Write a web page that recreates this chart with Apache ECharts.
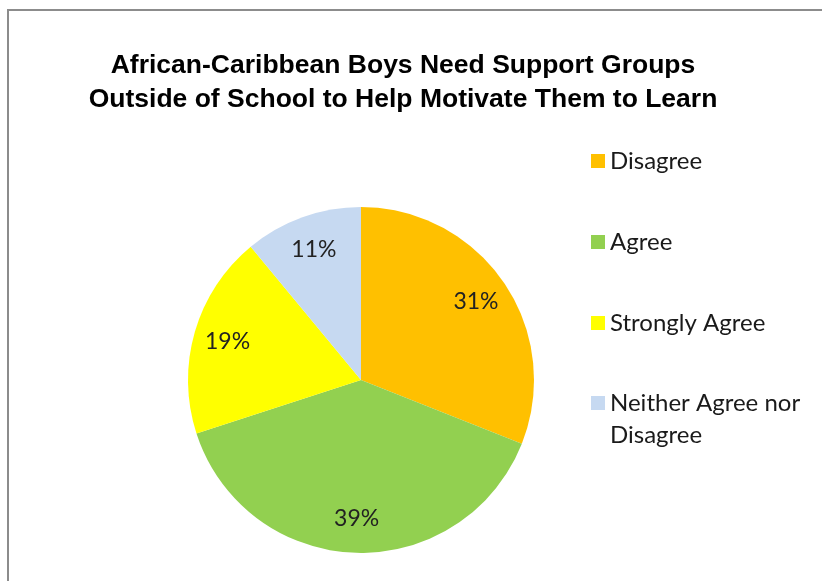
<!DOCTYPE html>
<html><head><meta charset="utf-8">
<script src="https://cdn.jsdelivr.net/npm/echarts@6/dist/echarts.min.js"></script>
<style>html,body{margin:0;padding:0;background:#fff}#c{width:822px;height:581px}</style>
</head><body><div id="c"></div>
<script>
const categories = ['Disagree', 'Agree', 'Strongly Agree', 'Neither Agree nor\nDisagree'];
const values = [31, 39, 19, 11];
const colors = ['#FFC000', '#92D050', '#FFFF00', '#C6D9F1'];
const titleLines = ['African-Caribbean Boys Need Support Groups', 'Outside of School to Help Motivate Them to Learn'];

const data = categories.map((n, i) => ({ name: n, value: values[i], itemStyle: { color: colors[i] } }));
const LH = 32;
const legendText = { fontFamily: 'Lato', fontSize: 24, color: '#1a1a1a', lineHeight: LH };
const chart = echarts.init(document.getElementById('c'), null, { renderer: 'canvas' });
chart.setOption({
  animation: false,
  backgroundColor: '#fff',
  graphic: [{
    type: 'rect', shape: { x: 8, y: 10, width: 1000, height: 1000 },
    style: { fill: 'none', stroke: '#8c8c8c', lineWidth: 2 }, silent: true, z: 0
  }],
  title: {
    text: titleLines.join('\n'), left: 398, top: 44, textAlign: 'center',
    textStyle: { fontFamily: 'Liberation Sans', fontWeight: 'bold', fontSize: 26.5, lineHeight: 34, color: '#000' }
  },
  legend: [{
    orient: 'vertical', left: 591, top: 145, itemWidth: 14, itemHeight: 14, itemGap: 49,
    icon: 'rect', padding: 0, selectedMode: false,
    textStyle: legendText,
    data: categories.slice(0, 3)
  }, {
    orient: 'vertical', left: 591, top: 403 - 1.5 * LH, itemWidth: 14, itemHeight: 14,
    icon: 'rect', padding: 0, selectedMode: false,
    textStyle: legendText,
    formatter: name => '\n' + name,
    data: categories.slice(3)
  }],
  series: [{
    type: 'pie', center: [361, 380], radius: 173, startAngle: 90, clockwise: true,
    label: { show: false }, labelLine: { show: false }, data: data, silent: true
  }, {
    type: 'pie', center: [361, 380], radius: [99, 173], startAngle: 90, clockwise: true,
    itemStyle: { color: 'transparent' }, silent: true, legendHoverLink: false,
    label: { show: true, position: 'inside', formatter: '{c}%', fontFamily: 'Lato', fontSize: 23, color: '#222' },
    labelLine: { show: false },
    data: values.map((v, i) => ({ name: '_' + i, value: v, itemStyle: { color: 'transparent' } }))
  }]
});
</script></body></html>
